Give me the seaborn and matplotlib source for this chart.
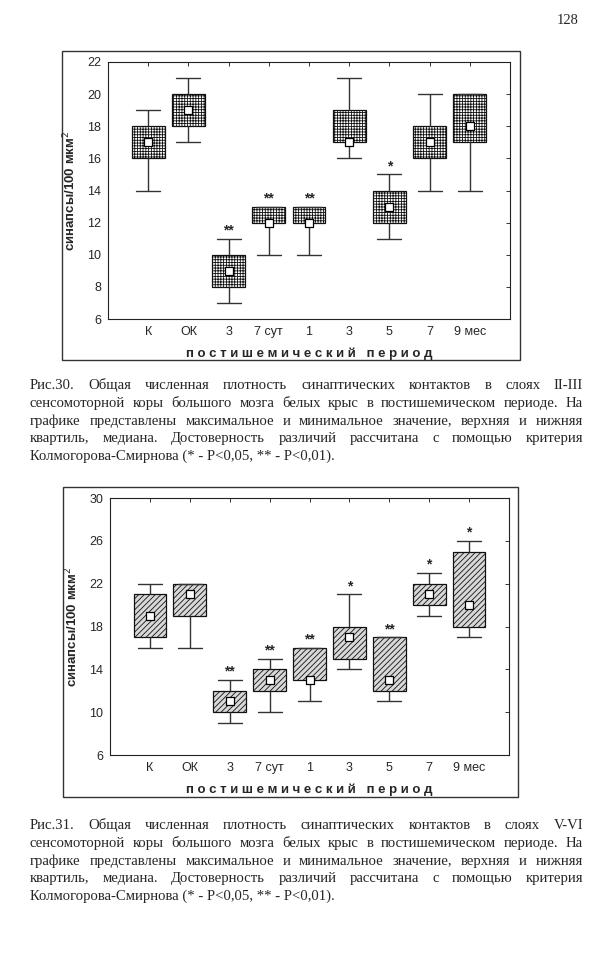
import numpy as np
import pandas as pd
import matplotlib
matplotlib.use("Agg")
import matplotlib.pyplot as plt
from matplotlib.patches import Rectangle
import seaborn as sns

# Подписи по оси X (общие для обоих графиков)
labels = ["К", "ОК", "3", "7 сут", "1", "3", "5", "7", "9 мес"]

# Рис.30 - слои II-III
top_min = [14, 17, 7, 10, 10, 16, 11, 14, 14]
top_q1 = [16, 18, 8, 12, 12, 17, 12, 16, 17]
top_med = [17, 19, 9, 12, 12, 17, 13, 17, 18]
top_q3 = [18, 20, 10, 13, 13, 19, 14, 18, 20]
top_max = [19, 21, 11, 13, 13, 21, 15, 20, 20]
top_stars = ["", "", "**", "**", "**", "", "*", "", ""]

# Рис.31 - слои V-VI
bot_min = [16, 16, 9, 10, 11, 14, 11, 19, 17]
bot_q1 = [17, 19, 10, 12, 13, 15, 12, 20, 18]
bot_med = [19, 21, 11, 13, 13, 17, 13, 21, 20]
bot_q3 = [21, 22, 12, 14, 16, 18, 17, 22, 25]
bot_max = [22, 22, 13, 15, 16, 21, 17, 23, 26]
bot_stars = ["", "", "**", "**", "**", "*", "**", "*", "*"]

caption30 = [
    "Рис.30. Общая численная плотность синаптических контактов в слоях II-III",
    "сенсомоторной коры большого мозга белых крыс в постишемическом периоде. На",
    "графике представлены максимальное и минимальное значение, верхняя и нижняя",
    "квартиль, медиана. Достоверность различий рассчитана с помощью критерия",
    "Колмогорова-Смирнова (* - P<0,05, ** - P<0,01).",
]
caption31 = [
    "Рис.31. Общая численная плотность синаптических контактов в слоях V-VI",
    "сенсомоторной коры большого мозга белых крыс в постишемическом периоде. На",
    "графике представлены максимальное и минимальное значение, верхняя и нижняя",
    "квартиль, медиана. Достоверность различий рассчитана с помощью критерия",
    "Колмогорова-Смирнова (* - P<0,05, ** - P<0,01).",
]

sns.set_theme(style="white")
plt.rcParams["font.family"] = ["Liberation Sans", "DejaVu Sans"]
plt.rcParams["hatch.linewidth"] = 0.6
plt.rcParams["hatch.color"] = "#222222"

W, H = 611, 960
fig = plt.figure(figsize=(W / 100, H / 100), dpi=100)
fig.patch.set_facecolor("white")


def px_rect(x0, y0, x1, y1):
    # пиксели -> доли фигуры
    return [x0 / W, 1 - y1 / H, (x1 - x0) / W, (y1 - y0) / H]


def draw_panel(ax, mins, q1s, meds, q3s, maxs, stars, yticks, hatch, face):
    # из пяти чисел квартили считаются точно (линейная интерполяция)
    rows = []
    for i in range(len(labels)):
        for v in (mins[i], q1s[i], meds[i], q3s[i], maxs[i]):
            rows.append({"pos": i, "value": v})
    df = pd.DataFrame(rows)

    sns.boxplot(data=df, x="pos", y="value", ax=ax, whis=(0, 100), width=0.82,
                color="white", saturation=1, linecolor="black", linewidth=0.9,
                fliersize=0, medianprops=dict(visible=False), capwidths=0.6,
                whiskerprops=dict(color="#333333", linewidth=1.0),
                capprops=dict(color="#333333", linewidth=1.0))
    for p in ax.patches:
        p.set_facecolor(face)
        p.set_hatch(hatch)
        p.set_edgecolor("#111111")

    sns.scatterplot(x=np.arange(len(labels)), y=meds, ax=ax, marker="s",
                    color="white", edgecolor="black", linewidth=0.9, s=30,
                    zorder=6, legend=False)

    for i, s in enumerate(stars):
        if s:
            ax.annotate(s, (i, maxs[i]), xytext=(0, 3), textcoords="offset points",
                        ha="center", va="baseline", fontsize=10, fontweight="bold")

    ax.set_xlim(-1, 9)
    ax.set_ylim(yticks[0], yticks[-1])
    ax.set_yticks(yticks)
    ax.set_xticks(range(len(labels)))
    ax.set_xticklabels(labels)
    ax.tick_params(axis="both", direction="in", length=3, width=0.7,
                   labelsize=9, top=True, right=True, pad=5, color="#333333")
    ax.tick_params(axis="x", pad=5)
    for sp in ax.spines.values():
        sp.set_visible(True)
        sp.set_color("#222222")
        sp.set_linewidth(0.8)
    ax.set_xlabel("п о с т и ш е м и ч е с к и й   п е р и о д",
                  fontsize=9.5, fontweight="bold", labelpad=7)
    ax.set_ylabel("синапсы/100 мкм$^2$", fontsize=9.5, fontweight="bold", labelpad=6)


# Верхний график
fig.add_artist(Rectangle((62 / W, 1 - 360 / H), (520 - 62) / W, (360 - 51) / H,
                         transform=fig.transFigure, fill=False,
                         edgecolor="#333333", linewidth=1.0))
ax1 = fig.add_axes(px_rect(108, 62, 510, 319))
draw_panel(ax1, top_min, top_q1, top_med, top_q3, top_max, top_stars,
           list(range(6, 23, 2)), "++++++", "white")

# Нижний график
fig.add_artist(Rectangle((63 / W, 1 - 797 / H), (518 - 63) / W, (797 - 487) / H,
                         transform=fig.transFigure, fill=False,
                         edgecolor="#333333", linewidth=1.0))
ax2 = fig.add_axes(px_rect(110, 498, 509, 755))
draw_panel(ax2, bot_min, bot_q1, bot_med, bot_q3, bot_max, bot_stars,
           list(range(6, 31, 4)), "//////", "#d8d8d8")

# Номер страницы
fig.text(568 / W, 1 - 20 / H, "128", ha="center", va="center",
         fontsize=10.5, family="Liberation Serif")


def justified(lines, x0, x1, y0, dy, size):
    # выравнивание по ширине: слова по одному, равные промежутки
    renderer = fig.canvas.get_renderer()
    for i, line in enumerate(lines):
        y = 1 - (y0 + i * dy) / H
        if i == len(lines) - 1:
            fig.text(x0 / W, y, line, va="baseline", fontsize=size,
                     family="Liberation Serif")
            continue
        words = line.split()
        texts = [fig.text(0, y, w, va="baseline", fontsize=size,
                          family="Liberation Serif") for w in words]
        widths = [t.get_window_extent(renderer).width for t in texts]
        gap = (x1 - x0 - sum(widths)) / (len(words) - 1)
        x = x0
        for t, w in zip(texts, widths):
            t.set_x(x / W)
            x += w + gap


justified(caption30, 30, 583, 389, 17.8, 10.6)
justified(caption31, 30, 583, 829, 17.8, 10.6)

fig.savefig("out.png", dpi=100, facecolor="white")
